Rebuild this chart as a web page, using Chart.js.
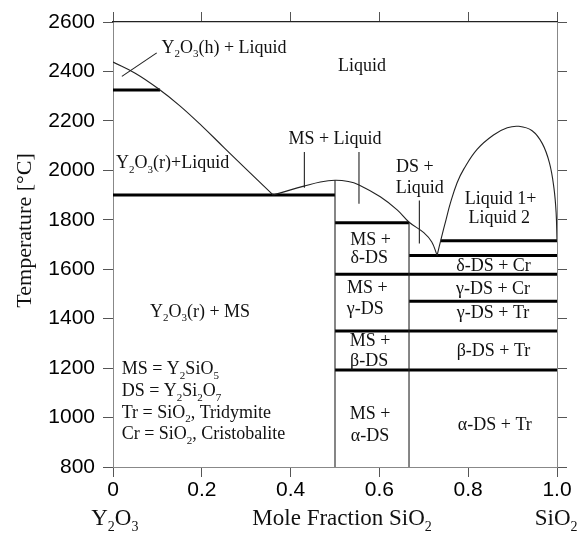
<!DOCTYPE html>
<html><head><meta charset="utf-8">
<script src="https://cdn.jsdelivr.net/npm/chart.js@4"></script>
<style>html,body{margin:0;padding:0;background:#fff}canvas{display:block}</style>
</head><body>
<canvas id="c" width="579" height="536"></canvas>
<script>
// ---------- tick labels ----------
const xTickValues = [0, 0.2, 0.4, 0.6, 0.8, 1.0];
const xTickLabels = ['0', '0.2', '0.4', '0.6', '0.8', '1.0'];
const yTickValues = [800, 1000, 1200, 1400, 1600, 1800, 2000, 2200, 2400, 2600];

// ---------- liquidus, Y2O3 side ----------
const liqY2O3X = [0, 0.05, 0.10, 0.15, 0.20, 0.25, 0.30, 0.361];
const liqY2O3T = [2438, 2393, 2333, 2262, 2180, 2092, 2005, 1900];

// ---------- liquidus, MS / DS ----------
const liqMSX = [0.361, 0.40, 0.43, 0.467, 0.50, 0.53, 0.553, 0.602, 0.64, 0.667, 0.70, 0.718, 0.73];
const liqMST = [1900, 1921, 1936, 1953, 1960, 1955, 1942, 1893, 1840, 1790, 1748, 1710, 1656];

// ---------- immiscibility dome ----------
const domeX = [0.73, 0.74, 0.75, 0.76, 0.775, 0.79, 0.82, 0.857, 0.888, 0.914, 0.944, 0.967, 0.983, 0.993, 0.998, 1.0];
const domeT = [1656, 1730, 1800, 1868, 1950, 2005, 2085, 2143, 2172, 2178, 2160, 2108, 2030, 1930, 1830, 1715];

// ---------- isotherms (thick) ----------
const isoT    = [2325, 1900, 1788, 1656, 1715, 1580, 1470, 1350, 1192];
const isoFrom = [0,    0,    0.5,  0.667, 0.738, 0.5, 0.667, 0.5, 0.5];
const isoTo   = [0.106, 0.5, 0.667, 1.0,  1.0,  1.0,  1.0,  1.0,  1.0];

// ---------- compound lines (thin verticals) ----------
const compX      = [0.5, 0.6667];
const compTop    = [1960, 1788];
const compBottom = [800, 800];

// ---------- label leader lines ----------
const leadX1 = [0.02, 0.431, 0.554, 0.69];
const leadT1 = [2380, 2074, 2074, 1878];
const leadX2 = [0.0985, 0.431, 0.554, 0.69];
const leadT2 = [2475, 1930, 1865, 1704];

// ---------- region labels (anchor in data units) ----------
const labelText = ['Y_2O_3(h) + Liquid', 'Liquid', 'Y_2O_3(r)+Liquid', 'MS + Liquid', 'DS +', 'Liquid',
  'Liquid 1+', 'Liquid 2', 'MS +', 'δ-DS', 'δ-DS + Cr', 'MS +', 'γ-DS', 'γ-DS + Cr', 'γ-DS + Tr',
  'MS +', 'β-DS', 'β-DS + Tr', 'MS +', 'α-DS', 'α-DS + Tr', 'Y_2O_3(r) + MS',
  'MS = Y_2SiO_5', 'DS = Y_2Si_2O_7', 'Tr = SiO_2, Tridymite', 'Cr = SiO_2, Cristobalite'];
const labelX = [0.109, 0.561, 0.007, 0.500, 0.680, 0.691, 0.873, 0.870, 0.580, 0.577, 0.857, 0.573, 0.568, 0.856, 0.856,
  0.579, 0.577, 0.857, 0.579, 0.579, 0.860, 0.196, 0.0196, 0.0196, 0.0196, 0.0196];
const labelT = [2500, 2427, 2032, 2130, 2018, 1934, 1888, 1813, 1724, 1649, 1618, 1527, 1441, 1525, 1427,
  1314, 1233, 1275, 1019, 931, 972, 1432, 1200, 1111, 1024, 937];
const labelAlign = ['left', 'center', 'left', 'center', 'center', 'center', 'center', 'center', 'center', 'center',
  'center', 'center', 'center', 'center', 'center', 'center', 'center', 'center', 'center', 'center', 'center', 'center',
  'left', 'left', 'left', 'left'];

// ---------- axis captions ----------
const yTitle = 'Temperature [°C]';
const xTitle = 'Mole Fraction SiO_2';
const xLeftEnd = 'Y_2O_3';
const xRightEnd = 'SiO_2';

// ---------- build datasets ----------
function pts(xs, ts) { return xs.map((x, i) => ({ x: x, y: ts[i] })); }
const datasets = [];
const thin = { showLine: true, pointRadius: 0, borderColor: '#222', borderWidth: 1.1, tension: 0, fill: false };
datasets.push(Object.assign({}, thin, { data: pts(liqY2O3X, liqY2O3T), tension: 0.4 }));
datasets.push(Object.assign({}, thin, { data: pts(liqMSX, liqMST), tension: 0.4 }));
datasets.push(Object.assign({}, thin, { data: pts(domeX, domeT), tension: 0.4 }));
compX.forEach((x, i) => datasets.push(Object.assign({}, thin, { data: [{ x: x, y: compBottom[i] }, { x: x, y: compTop[i] }] })));
leadX1.forEach((x, i) => datasets.push(Object.assign({}, thin, { data: [{ x: x, y: leadT1[i] }, { x: leadX2[i], y: leadT2[i] }] })));
isoT.forEach((t, i) => datasets.push({ showLine: true, pointRadius: 0, borderColor: '#000', borderWidth: 3, tension: 0,
  data: [{ x: isoFrom[i], y: t }, { x: isoTo[i], y: t }] }));

// ---------- rich text (subscripts via "_d") ----------
function segs(str) {
  const out = []; let i = 0;
  while (i < str.length) {
    if (str[i] === '_') { out.push({ t: str[i + 1], sub: true }); i += 2; }
    else { let j = i; while (j < str.length && str[j] !== '_') j++; out.push({ t: str.slice(i, j), sub: false }); i = j; }
  }
  return out;
}
function drawRich(ctx, str, x, baseY, size, align) {
  const s = segs(str);
  const mainF = size + 'px "Liberation Serif"';
  const subF = Math.round(size * 0.62) + 'px "Liberation Serif"';
  let w = 0;
  s.forEach(p => { ctx.font = p.sub ? subF : mainF; p.w = ctx.measureText(p.t).width; w += p.w; });
  let cx = align === 'left' ? x : (align === 'right' ? x - w : x - w / 2);
  ctx.textAlign = 'left'; ctx.textBaseline = 'alphabetic';
  s.forEach(p => { ctx.font = p.sub ? subF : mainF; ctx.fillText(p.t, cx, baseY + (p.sub ? size * 0.26 : 0)); cx += p.w; });
}

const textPlugin = {
  id: 'phaseText',
  afterDatasetsDraw(chart) {
    const ctx = chart.ctx, xs = chart.scales.x, ys = chart.scales.y, area = chart.chartArea;
    ctx.save();
    ctx.fillStyle = '#111';
    labelText.forEach((t, i) => {
      const px = xs.getPixelForValue(labelX[i]);
      const py = ys.getPixelForValue(labelT[i]) + 18 * 0.33;
      drawRich(ctx, t, px, py, 18, labelAlign[i]);
    });
    // bottom captions
    const by = area.bottom + 58;
    drawRich(ctx, xLeftEnd, xs.getPixelForValue(0.004), by, 23, 'center');
    drawRich(ctx, xTitle, xs.getPixelForValue(0.516), by, 23, 'center');
    drawRich(ctx, xRightEnd, xs.getPixelForValue(0.998), by, 23, 'center');
    // y title (rotated)
    ctx.translate(area.left - 89 + 22 * 0.33, ys.getPixelForValue(1757));
    ctx.rotate(-Math.PI / 2);
    ctx.font = '22px "Liberation Serif"';
    ctx.textAlign = 'center'; ctx.textBaseline = 'alphabetic';
    ctx.fillText(yTitle, 0, 0);
    ctx.restore();
  }
};

const tickFont = { family: '"Liberation Sans", Arial, sans-serif', size: 21 };
const gridOpt = { drawOnChartArea: false, drawTicks: true, tickLength: 10, color: '#555', lineWidth: 1 };

new Chart(document.getElementById('c'), {
  type: 'scatter',
  data: { datasets: datasets },
  options: {
    responsive: false, animation: false, devicePixelRatio: 1, events: [],
    layout: { padding: 0 },
    plugins: { legend: { display: false }, tooltip: { enabled: false } },
    scales: {
      x: {
        type: 'linear', position: 'bottom', min: 0, max: 1,
        afterBuildTicks: s => { s.ticks = xTickValues.map(v => ({ value: v })); },
        ticks: { font: tickFont, color: '#000', padding: 1, maxRotation: 0,
          callback: v => { const k = xTickValues.findIndex(t => Math.abs(t - v) < 1e-6); return k >= 0 ? xTickLabels[k] : ''; } },
        grid: gridOpt, border: { display: true, color: '#888', width: 1 },
        afterFit: s => { s.height = 69; }
      },
      y: {
        type: 'linear', position: 'left', min: 800, max: 2600,
        afterBuildTicks: s => { s.ticks = yTickValues.map(v => ({ value: v })); },
        ticks: { font: tickFont, color: '#000', padding: 8, callback: v => String(v) },
        grid: gridOpt, border: { display: true, color: '#888', width: 1 },
        afterFit: s => { s.width = 113; }
      },
      x2: {
        type: 'linear', axis: 'x', position: 'top', min: 0, max: 1,
        afterBuildTicks: s => { s.ticks = xTickValues.map(v => ({ value: v })); },
        ticks: { display: false },
        grid: gridOpt, border: { display: true, color: '#222', width: 1.2 },
        afterFit: s => { s.height = 22; }
      },
      y2: {
        type: 'linear', axis: 'y', position: 'right', min: 800, max: 2600,
        afterBuildTicks: s => { s.ticks = yTickValues.map(v => ({ value: v })); },
        ticks: { display: false },
        grid: gridOpt, border: { display: true, color: '#888', width: 1 },
        afterFit: s => { s.width = 22; }
      }
    }
  },
  plugins: [textPlugin]
});
</script>
</body></html>
